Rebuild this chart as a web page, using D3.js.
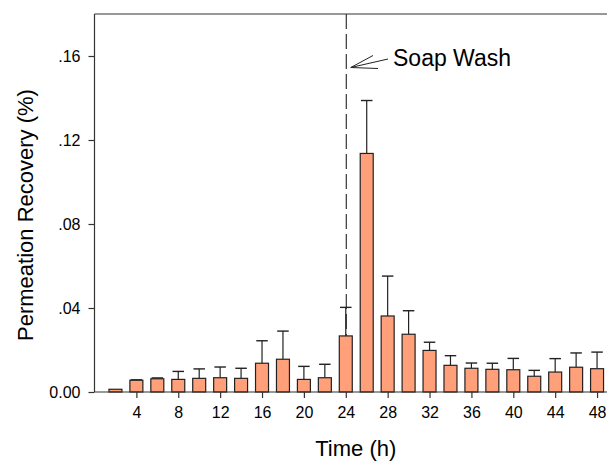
<!DOCTYPE html>
<html>
<head>
<meta charset="utf-8">
<script src="https://cdn.jsdelivr.net/npm/d3@7"></script>
<style>
  html, body { margin: 0; padding: 0; background: #fff; }
  svg { display: block; }
  text { font-family: "Liberation Sans", Arial, sans-serif; fill: #000; }
</style>
</head>
<body>
<svg id="chart" width="607" height="464"></svg>
<script>
// Data
const hours = [2, 4, 6, 8, 10, 12, 14, 16, 18, 20, 22, 24, 26, 28, 30, 32, 34, 36, 38, 40, 42, 44, 46, 48];
const recovery = [0.0013, 0.0056, 0.0063, 0.0060, 0.0065, 0.0068, 0.0065, 0.0137, 0.0156, 0.0060, 0.0068, 0.0267,
                  0.1136, 0.0362, 0.0275, 0.0198, 0.0127, 0.0113, 0.0108, 0.0106, 0.0075, 0.0095, 0.0118, 0.0111];
const upperError = [0.0000, 0.0002, 0.0004, 0.0038, 0.0045, 0.0051, 0.0048, 0.0107, 0.0134, 0.0062, 0.0064, 0.0136,
                    0.0252, 0.0190, 0.0112, 0.0039, 0.0046, 0.0025, 0.0029, 0.0054, 0.0028, 0.0064, 0.0068, 0.0079];
const xTicks = [4, 8, 12, 16, 20, 24, 28, 32, 36, 40, 44, 48];
const yTicks = [0, 0.04, 0.08, 0.12, 0.16];
const washHour = 24;
const annotationLabel = "Soap Wash";
const xTitle = "Time (h)";
const yTitle = "Permeation Recovery (%)";

const svg = d3.select("#chart");
const x = d3.scaleLinear().domain([0, 50]).range([94.5, 618]);
const y = d3.scaleLinear().domain([0, 0.18]).range([392, 14]);
const axisColor = "#333";

// frame top line
svg.append("line")
  .attr("x1", x(0)).attr("x2", 607)
  .attr("y1", y(0.18)).attr("y2", y(0.18))
  .attr("stroke", axisColor).attr("stroke-width", 1.2);

// dashed soap wash line
svg.append("line")
  .attr("x1", x(washHour) + 0.5).attr("x2", x(washHour) + 0.5)
  .attr("y1", y(0.18)).attr("y2", y(0))
  .attr("stroke", "#222").attr("stroke-width", 1.1)
  .attr("stroke-dasharray", "15,5");

// bars
const barW = x(1.24) - x(0);
const capW = x(1.1) - x(0);
const data = hours.map((h, i) => ({ h, v: recovery[i], e: upperError[i] }));

const g = svg.append("g");
// error bars
g.selectAll(".err").data(data.filter(d => d.e > 0)).join("line")
  .attr("x1", d => x(d.h)).attr("x2", d => x(d.h))
  .attr("y1", d => y(d.v)).attr("y2", d => y(d.v + d.e))
  .attr("stroke", "#222").attr("stroke-width", 1.2);
g.selectAll(".cap").data(data.filter(d => d.e > 0)).join("line")
  .attr("x1", d => x(d.h) - capW / 2).attr("x2", d => x(d.h) + capW / 2)
  .attr("y1", d => y(d.v + d.e)).attr("y2", d => y(d.v + d.e))
  .attr("stroke", "#222").attr("stroke-width", 1.4);
g.selectAll(".bar").data(data).join("rect")
  .attr("x", d => x(d.h) - barW / 2)
  .attr("width", barW)
  .attr("y", d => y(d.v))
  .attr("height", d => y(0) - y(d.v))
  .attr("fill", "#FFA07A")
  .attr("stroke", "#222").attr("stroke-width", 1.2);

// axes
const xAxis = d3.axisBottom(x).tickValues(xTicks).tickSize(6).tickPadding(9).tickFormat(d3.format("d"));
const xg = svg.append("g").attr("transform", `translate(0,${y(0)})`).call(xAxis);
xg.select(".domain").attr("d", `M${x(0)},0H607`).attr("stroke", axisColor).attr("stroke-width", 1.2);
xg.selectAll(".tick line").attr("stroke", axisColor).attr("stroke-width", 1.2);
xg.selectAll(".tick text").attr("font-size", 16).attr("font-family", "Liberation Sans, Arial, sans-serif").attr("fill", "#000");

const yFmt = d => d === 0 ? "0.00" : d3.format(".2f")(d).replace(/^0/, "");
const yAxis = d3.axisLeft(y).tickValues(yTicks).tickSize(6).tickPadding(8).tickFormat(yFmt);
const yg = svg.append("g").attr("transform", `translate(${x(0)},0)`).call(yAxis);
yg.select(".domain").attr("d", `M0,${y(0.18)}V${y(0)}`).attr("stroke", axisColor).attr("stroke-width", 1.2);
yg.selectAll(".tick line").attr("stroke", axisColor).attr("stroke-width", 1.2);
yg.selectAll(".tick text").attr("font-size", 16).attr("font-family", "Liberation Sans, Arial, sans-serif").attr("fill", "#000");

// titles
svg.append("text")
  .attr("x", (x(0) + 607) / 2 + 5).attr("y", 456)
  .attr("text-anchor", "middle").attr("font-size", 22)
  .text(xTitle);
svg.append("text")
  .attr("transform", `translate(33,${215}) rotate(-90)`)
  .attr("text-anchor", "middle").attr("font-size", 22)
  .text(yTitle);

// annotation
const tipX = x(washHour) + 5, tipY = 67.5;
const ann = svg.append("g").attr("stroke", "#222").attr("stroke-width", 1).attr("fill", "none");
ann.append("line").attr("x1", tipX).attr("y1", tipY).attr("x2", 388).attr("y2", 59);
ann.append("line").attr("x1", tipX).attr("y1", tipY).attr("x2", 373).attr("y2", 55.5);
ann.append("line").attr("x1", tipX).attr("y1", tipY).attr("x2", 378).attr("y2", 68.5);
svg.append("text")
  .attr("x", 393).attr("y", 66)
  .attr("font-size", 23)
  .text(annotationLabel);
</script>
</body>
</html>
